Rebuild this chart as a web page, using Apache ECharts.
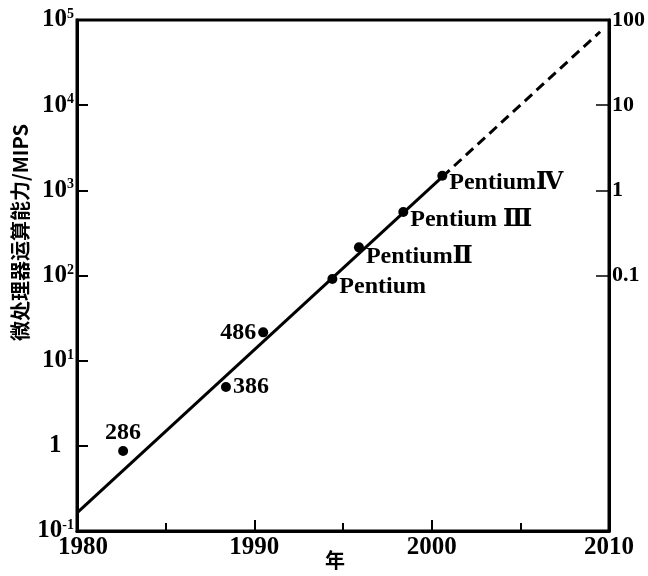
<!DOCTYPE html>
<html><head><meta charset="utf-8">
<script src="https://cdn.jsdelivr.net/npm/echarts@6/dist/echarts.min.js"></script>
<style>html,body{margin:0;padding:0;background:#fff}#c{width:648px;height:576px}</style>
</head><body><div id="c"></div>
<script>
// Chip data
const chipNames = ['286', '386', '486', 'Pentium', 'PentiumⅡ', 'Pentium Ⅲ', 'PentiumⅣ'];
const chipYears = [1982.6, 1988.4, 1990.5, 1994.4, 1995.9, 1998.4, 2000.6];
const chipMips  = [0.87, 4.9, 21.5, 91, 214, 556, 1486];
// Trend line (solid up to join point, dashed after)
const trendYears = [1980, 2000.6, 2009.5];
const trendMips  = [0.163, 1440, 72800];
// Tick labels
const xTickLabels = [1980, 1990, 2000, 2010];
const leftTicks = [0.1, 1, 10, 100, 1000, 10000, 100000];
const rightTicks = [0.1, 1, 10, 100];

const labelPlace = {
  '286': {position: 'top', distance: 1},
  '386': {position: 'right', distance: 2},
  '486': {position: 'left', distance: 2},
  'Pentium': {position: 'right', distance: 2, offset: [0, 8]},
  'PentiumⅡ': {position: 'right', distance: 2, offset: [0, 9]},
  'Pentium Ⅲ': {position: 'right', distance: 2, offset: [0, 8]},
  'PentiumⅣ': {position: 'right', distance: 2, offset: [0, 7]}
};

const serif = '"Liberation Serif", "DejaVu Serif", serif';
const chart = echarts.init(document.getElementById('c'));

const pts = chipNames.map((n, i) => ({
  value: [chipYears[i], chipMips[i]],
  label: Object.assign({show: true, formatter: n}, labelPlace[n])
}));

chart.setOption({
  animation: false,
  backgroundColor: '#fff',
  grid: {left: 77, right: 39, top: 20, bottom: 45, outerBoundsMode: 'none', containLabel: false,
         show: true, borderColor: '#000', borderWidth: 3, backgroundColor: 'transparent'},
  xAxis: {
    type: 'value', min: 1980, max: 2010, interval: 10,
    name: '年', nameLocation: 'middle', nameGap: 19, nameMoveOverlap: false,
    nameTextStyle: {fontFamily: '"Noto Sans CJK SC", sans-serif', fontWeight: 'bold', fontSize: 20, color: '#000', padding: [0, 16, 0, 0]},
    axisLine: {lineStyle: {color: '#000', width: 3}},
    axisTick: {inside: true, length: 11, lineStyle: {color: '#000', width: 2}},
    minorTick: {show: true, splitNumber: 2, length: 8, lineStyle: {color: '#000', width: 2}},
    splitLine: {show: false},
    axisLabel: {
      margin: 4, color: '#000', fontFamily: serif, fontWeight: 'bold', fontSize: 25,
      formatter: v => {
        if (!xTickLabels.includes(v)) return '';
        return v === xTickLabels[0] ? '{f|' + v + '}' : String(v);
      },
      rich: {f: {fontFamily: serif, fontWeight: 'bold', fontSize: 25, color: '#000', padding: [0, 0, 0, 12]}}
    }
  },
  yAxis: [{
    type: 'log', logBase: 10, min: 0.1, max: 100000,
    name: '微处理器运算能力/MIPS', nameLocation: 'middle', nameGap: 47, nameMoveOverlap: false,
    nameTextStyle: {fontFamily: '"Noto Sans CJK SC", sans-serif', fontWeight: 'bold', fontSize: 20, color: '#000', padding: [0, 0, 0, 86]},
    axisLine: {lineStyle: {color: '#000', width: 3}},
    axisTick: {inside: true, length: 11, lineStyle: {color: '#000', width: 2}},
    splitLine: {show: false},
    axisLabel: {
      margin: 3, color: '#000', fontFamily: serif, fontWeight: 'bold', fontSize: 25,
      formatter: v => {
        const e = Math.round(Math.log10(v));
        if (e === 0) return '{b|1}  ';
        return '{b|10}{s|' + e + '}';
      },
      rich: {
        b: {fontFamily: serif, fontWeight: 'bold', fontSize: 25, lineHeight: 25, color: '#000'},
        s: {fontFamily: serif, fontWeight: 'bold', fontSize: 14, verticalAlign: 'top', lineHeight: 14, color: '#000'}
      }
    }
  }, {
    type: 'log', logBase: 10, min: 0.0001, max: 100, position: 'right',
    axisLine: {show: true, lineStyle: {color: '#000', width: 3}},
    axisTick: {show: true, inside: true, length: 13, customValues: rightTicks, lineStyle: {color: '#000', width: 1.5}},
    splitLine: {show: false},
    axisLabel: {
      margin: 3, color: '#000', fontFamily: serif, fontWeight: 'bold', fontSize: 22,
      customValues: rightTicks,
      formatter: v => String(v)
    }
  }],
  series: [{
    type: 'line', yAxisIndex: 0, symbol: 'none', silent: true,
    data: [[trendYears[0], trendMips[0]], [trendYears[1], trendMips[1]]],
    lineStyle: {color: '#000', width: 3}
  }, {
    type: 'line', yAxisIndex: 0, symbol: 'none', silent: true,
    data: [[trendYears[1], trendMips[1]], [trendYears[2], trendMips[2]]],
    lineStyle: {color: '#000', width: 3, type: [10, 6]}
  }, {
    type: 'scatter', yAxisIndex: 0, symbol: 'circle', symbolSize: 10,
    itemStyle: {color: '#000', opacity: 1},
    label: {color: '#000', fontFamily: serif, fontWeight: 'bold', fontSize: 24},
    data: pts
  }]
});
</script></body></html>
